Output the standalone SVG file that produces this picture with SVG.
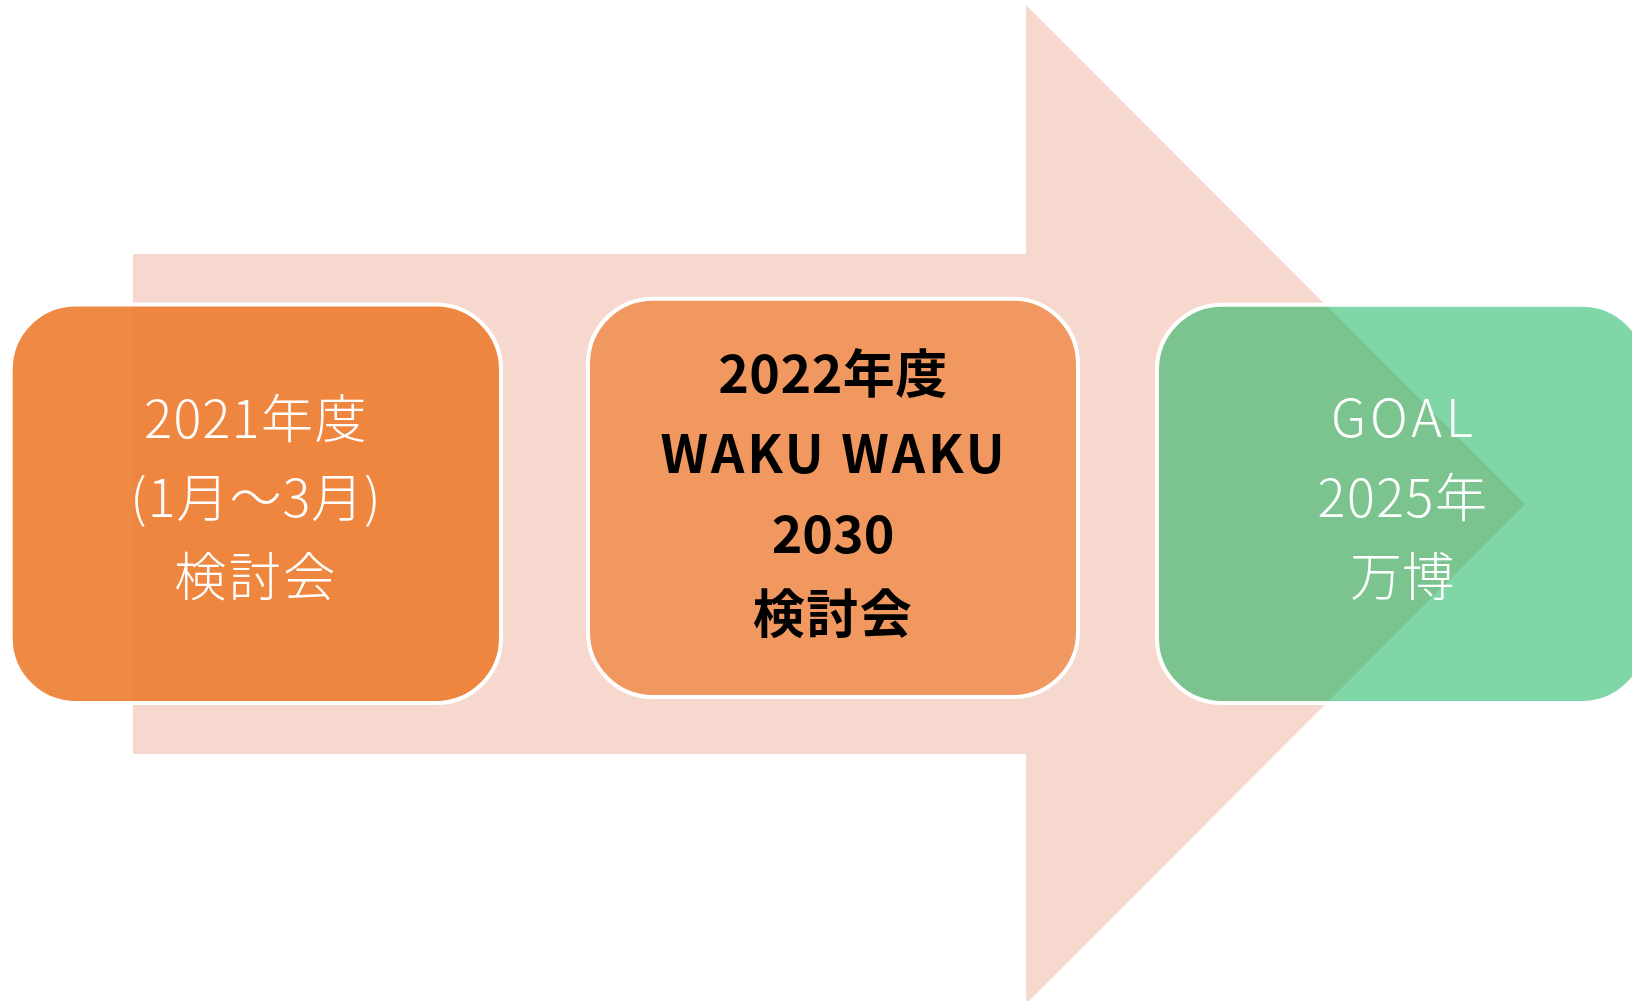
<svg xmlns="http://www.w3.org/2000/svg" width="1632" height="1001" viewBox="0 0 1632 1001">
  <style>
    .node { stroke: #FFFFFF; stroke-width: 4; }
    .light { font-family: "Noto Sans CJK JP", "Noto Sans", sans-serif; font-weight: 300; font-size: 52px; fill: #FFFFFF; text-anchor: middle; }
    .bold { font-family: "Noto Sans CJK JP", "Noto Sans", sans-serif; font-weight: 700; font-size: 52px; fill: #000000; text-anchor: middle; }
  </style>
  <rect width="1632" height="1001" fill="#FFFFFF"/>
  <g id="connectors">
    <polygon id="arrow" points="133,254 1026,254 1026,5 1525,504.5 1026,1004 1026,754 133,754" fill="#F7D8CE"/>
  </g>
  <g id="node1">
    <rect class="node" x="10.7" y="304.5" width="490.3" height="398.5" rx="65" ry="65" fill="#ED7D31" fill-opacity="0.9"/>
    <text class="light" x="256" y="438" letter-spacing="1.4">2021年度</text>
    <text class="light" x="256" y="517" letter-spacing="1">(1月～3月)</text>
    <text class="light" x="256" y="596" letter-spacing="2.5">検討会</text>
  </g>
  <g id="node2">
    <rect class="node" x="588" y="298.7" width="490" height="398.3" rx="65" ry="65" fill="#ED7D31" fill-opacity="0.7"/>
    <text class="bold" x="833" y="393" letter-spacing="0.5">2022年度</text>
    <text class="bold" x="834" y="473" letter-spacing="2.9">WAKU WAKU</text>
    <text class="bold" x="833" y="553">2030</text>
    <text class="bold" x="833" y="633" letter-spacing="1.5">検討会</text>
  </g>
  <g id="node3">
    <rect class="node" x="1157" y="304.7" width="490" height="398.3" rx="65" ry="65" fill="#00B050" fill-opacity="0.5"/>
    <text class="light" x="1404" y="437" letter-spacing="4">GOAL</text>
    <text class="light" x="1403" y="517" letter-spacing="1.5">2025年</text>
    <text class="light" x="1402" y="596">万博</text>
  </g>
</svg>
